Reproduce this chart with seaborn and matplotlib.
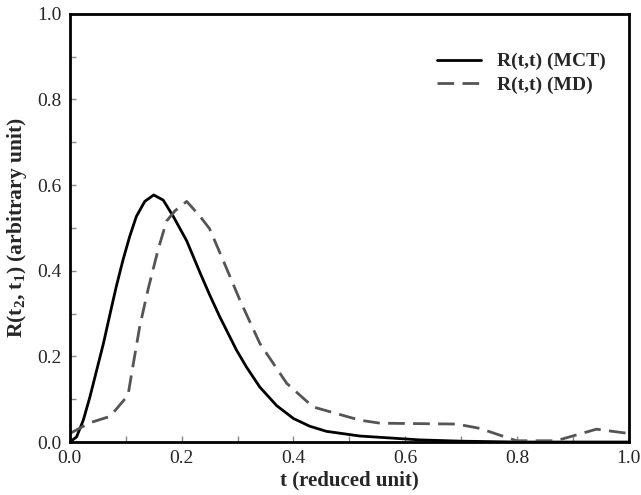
import numpy as np
import pandas as pd
import matplotlib
matplotlib.use("Agg")
import matplotlib.pyplot as plt
import seaborn as sns

# MCT curve (solid)
t_mct = [0.0, 0.012, 0.024, 0.036, 0.048, 0.06, 0.072, 0.083, 0.095, 0.107, 0.119,
         0.134, 0.150, 0.167, 0.185, 0.209, 0.233, 0.25, 0.268, 0.298, 0.316, 0.34,
         0.37, 0.40, 0.429, 0.459, 0.519, 0.555, 0.626, 0.70, 0.80, 1.0]
r_mct = [0.0, 0.012, 0.051, 0.106, 0.168, 0.23, 0.30, 0.363, 0.425, 0.48, 0.527,
         0.562, 0.577, 0.565, 0.527, 0.47, 0.395, 0.344, 0.293, 0.215, 0.175, 0.128,
         0.085, 0.055, 0.037, 0.025, 0.014, 0.011, 0.005, 0.002, 0.0, 0.0]

# MD curve (dashed)
t_md = [0.0, 0.036, 0.072, 0.104, 0.11, 0.125, 0.14, 0.158, 0.173, 0.188, 0.209,
        0.233, 0.25, 0.274, 0.304, 0.34, 0.388, 0.435, 0.519, 0.555, 0.692, 0.733,
        0.799, 0.87, 0.942, 1.0]
r_md = [0.02, 0.045, 0.06, 0.109, 0.156, 0.27, 0.357, 0.45, 0.516, 0.54, 0.562,
        0.527, 0.498, 0.425, 0.332, 0.23, 0.137, 0.082, 0.051, 0.044, 0.042, 0.032,
        0.003, 0.003, 0.03, 0.02]

labels = ["R(t,t) (MCT)", "R(t,t) (MD)"]
xticks = [0.0, 0.2, 0.4, 0.6, 0.8, 1.0]
yticks = [0.0, 0.2, 0.4, 0.6, 0.8, 1.0]

df = pd.concat([
    pd.DataFrame({"t": t_mct, "R": r_mct, "series": labels[0]}),
    pd.DataFrame({"t": t_md, "R": r_md, "series": labels[1]}),
])

sns.set_style("ticks")
plt.rcParams["font.family"] = ["Liberation Serif", "DejaVu Serif"]
plt.rcParams["mathtext.fontset"] = "custom"
plt.rcParams["mathtext.rm"] = "Liberation Serif"
plt.rcParams["mathtext.it"] = "Liberation Serif:italic"
plt.rcParams["mathtext.bf"] = "Liberation Serif:bold"

fig = plt.figure(figsize=(6.41, 4.95), dpi=100)
ax = fig.add_axes([0.109, 0.107, 0.872, 0.865])

sns.lineplot(data=df, x="t", y="R", hue="series", style="series",
             palette={labels[0]: "black", labels[1]: "#555555"},
             dashes={labels[0]: "", labels[1]: (6, 3)},
             linewidth=2, ax=ax, sort=False)

ax.set_xlim(0, 1)
ax.set_ylim(0, 1)
ax.set_xticks(xticks)
ax.set_yticks(yticks)
ax.set_xticklabels([f"{v:.1f}" for v in xticks], fontsize=14)
ax.set_yticklabels([f"{v:.1f}" for v in yticks], fontsize=14)
ax.set_xticks([0.1, 0.3, 0.5, 0.7, 0.9], minor=True)
ax.set_yticks([0.1, 0.3, 0.5, 0.7, 0.9], minor=True)
ax.tick_params(which="both", direction="in", length=4, width=1, color="#888888")
ax.tick_params(which="major", pad=6)

for s in ax.spines.values():
    s.set_linewidth(2)
    s.set_color("black")

ax.set_xlabel("t (reduced unit)", fontsize=15, fontweight="bold", labelpad=2)
ax.set_ylabel(r"R(t$_{\mathbf{2}}$, t$_{\mathbf{1}}$) (arbitrary unit)", fontsize=15.5,
              fontweight="bold", labelpad=6)

leg = ax.legend(loc="upper right", bbox_to_anchor=(0.99, 0.95), frameon=False,
                prop={"family": "Liberation Serif", "weight": "bold", "size": 14},
                handlelength=2.3, handletextpad=0.8, labelspacing=0.3)

fig.savefig("out.png", dpi=100)
